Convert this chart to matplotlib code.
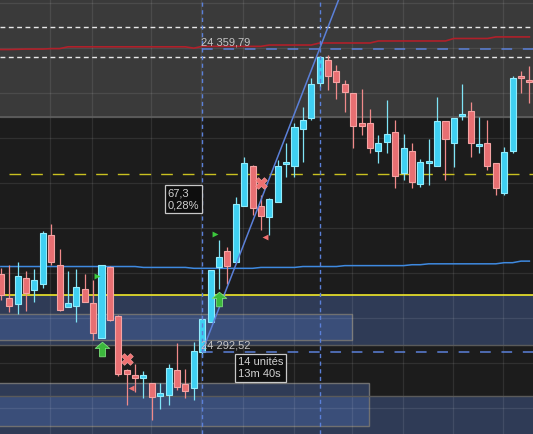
import numpy as np
import matplotlib.pyplot as plt
from matplotlib.path import Path
from matplotlib.patches import Rectangle

# --- data (price per candle) ---
opens = [24309.7, 24304.4, 24303.1, 24308.9, 24306.2, 24307.5, 24318.4, 24311.7, 24302.4, 24302.6,
         24306.4, 24303.3, 24295.5, 24311.3, 24300.4, 24288.4, 24287.3, 24286.6, 24285.5, 24282.6,
         24282.9, 24288.4, 24285.3, 24284.4, 24292.4, 24299.1, 24311.3, 24314.9, 24312.4, 24324.8,
         24333.7, 24324.8, 24322.4, 24325.7, 24334.2, 24333.7, 24342.0, 24344.4, 24352.2, 24357.3,
         24354.8, 24351.9, 24349.9, 24343.3, 24343.3, 24337.1, 24339.1, 24341.3, 24332.2, 24337.1,
         24329.7, 24334.4, 24333.7, 24343.7, 24338.8, 24344.8, 24346.0, 24338.2, 24338.8, 24334.4,
         24327.7, 24337.1, 24353.7, 24352.8]
highs = [24311.1, 24311.7, 24312.4, 24310.4, 24310.9, 24319.3, 24320.9, 24315.3, 24310.4, 24310.9,
         24309.7, 24308.4, 24311.7, 24311.5, 24300.6, 24288.6, 24289.8, 24288.2, 24285.5, 24285.5,
         24289.8, 24294.4, 24288.6, 24294.6, 24299.8, 24310.6, 24317.3, 24315.7, 24326.8, 24335.7,
         24333.9, 24327.3, 24326.6, 24335.1, 24338.8, 24343.3, 24346.8, 24353.3, 24357.9, 24358.4,
         24356.2, 24352.8, 24349.9, 24350.8, 24346.4, 24340.6, 24348.4, 24344.0, 24340.8, 24338.8,
         24335.3, 24339.7, 24349.1, 24343.7, 24344.4, 24351.9, 24347.9, 24344.6, 24344.0, 24334.4,
         24338.0, 24353.7, 24354.8, 24355.9]
lows = [24304.0, 24301.3, 24300.9, 24301.5, 24303.5, 24306.6, 24311.7, 24301.5, 24302.4, 24299.1,
        24303.5, 24295.1, 24295.5, 24299.3, 24287.1, 24280.7, 24283.5, 24282.2, 24277.3, 24279.8,
        24280.7, 24284.0, 24282.2, 24281.8, 24291.3, 24299.1, 24306.4, 24307.5, 24312.4, 24324.8,
        24322.9, 24319.5, 24318.4, 24325.7, 24331.3, 24331.3, 24334.6, 24344.0, 24351.3, 24350.6,
        24348.6, 24345.7, 24337.7, 24340.6, 24336.6, 24334.4, 24336.6, 24328.9, 24330.6, 24328.9,
        24329.1, 24329.5, 24333.7, 24330.6, 24333.5, 24344.0, 24335.7, 24336.6, 24332.8, 24327.3,
        24327.3, 24336.6, 24349.9, 24347.7]
closes = [24305.1, 24302.6, 24309.3, 24305.5, 24308.4, 24318.9, 24312.4, 24301.8, 24303.3, 24306.9,
          24303.5, 24296.6, 24311.7, 24299.5, 24287.5, 24287.5, 24286.6, 24287.3, 24282.4, 24283.3,
          24288.9, 24284.6, 24283.8, 24292.6, 24299.8, 24310.6, 24313.5, 24311.5, 24325.3, 24334.4,
          24324.4, 24322.6, 24326.4, 24333.7, 24334.4, 24342.4, 24344.0, 24351.9, 24357.9, 24353.7,
          24352.4, 24350.2, 24342.6, 24342.6, 24337.7, 24338.8, 24340.8, 24331.5, 24337.7, 24330.2,
          24334.6, 24334.6, 24343.7, 24339.7, 24344.4, 24345.3, 24338.8, 24338.4, 24333.7, 24328.9,
          24336.8, 24353.3, 24353.3, 24352.4]

# moving averages
ma_red = [24359.6, 24359.6, 24359.65, 24359.7, 24359.7, 24359.7, 24359.8, 24359.8,
          24360.2, 24360.2, 24360.2, 24360.2, 24360.2, 24360.2, 24360.2, 24360.2, 24360.2,
          24360.2, 24360.2, 24360.2, 24360.2, 24360.2, 24360.2, 24359.9,
          24360.3, 24360.3, 24360.3, 24360.3, 24360.3, 24360.3, 24360.3, 24360.3,
          24360.6, 24360.6, 24360.6, 24360.6, 24360.6, 24360.6,
          24361.05, 24361.05, 24361.05, 24361.05, 24361.05, 24361.05, 24361.05,
          24361.5, 24361.5, 24361.5, 24361.5, 24361.5, 24361.5, 24361.5, 24361.5, 24361.5,
          24362.05, 24362.05, 24362.05, 24362.05, 24362.05,
          24362.4, 24362.4, 24362.4, 24362.4, 24362.4]
ma_blue = [24311.4] * 17 + [24311.2] * 6 + [24311.0] * 8 + [24311.2] * 5 + [24311.4] * 5 \
          + [24311.6] * 8 + [24311.8] * 2 + [24312.0] * 9 + [24312.25] * 2 + [24312.6] * 2

# levels and zones
white_levels = [24364.5, 24357.9]
yellow_dashed = 24331.9
yellow_solid = 24305.0
gray_zone_low = 24344.7
zone1 = (24294.0, 24305.0)
zone2_top = 24282.7
box1 = (24295.1, 24300.9, 41.9)
box2 = (24276.0, 24285.5, 43.9)

# measurement between two candles
p_start, p_end = 24292.52, 24359.79
i_start, i_end = 24, 38

buy_idx, buy_px = [12, 26], [24293.1, 24304.2]
sell_idx, sell_px = [15, 31], [24290.9, 24329.9]
gtri_idx, gtri_px = [11.5, 25.5], [24309.4, 24318.6]
rtri_idx, rtri_px = [15.5, 31.5], [24284.5, 24317.9]

vgrid = [5.9, 10.9, 17.9, 23.9, 28.9, 34.9, 41.9, 47.9, 53.9, 59.9]
hgrid = np.arange(24280, 24371, 10)

plt.rcParams['font.family'] = ['Liberation Sans', 'DejaVu Sans']

fig = plt.figure(figsize=(5.33, 4.34), dpi=100)
fig.patch.set_facecolor('#1c1c1c')
ax = fig.add_axes([0, 0, 1, 1])
ax.set_facecolor('#1c1c1c')
ymin, ymax = 24274.2, 24370.6
ax.set_xlim(-0.1, 63.43)
ax.set_ylim(ymin, ymax)
for s in ax.spines.values():
    s.set_visible(False)
ax.set_xticks([])
ax.set_yticks([])

# zones
ax.axhspan(gray_zone_low, ymax, color='#3a3a3a', zorder=0)
ax.axhline(gray_zone_low, color='#606060', lw=1.2, zorder=1)
blue = '#4d6cae'
ax.axhspan(zone1[0], zone1[1], color=blue, alpha=0.4, lw=0, zorder=0.5)
ax.axhline(zone1[0], color='#5a5a5a', lw=1, zorder=1)
ax.axhspan(ymin, zone2_top, color=blue, alpha=0.4, lw=0, zorder=0.5)
ax.axhline(zone2_top, color='#5a5a5a', lw=1, zorder=1)
for lo, hi, right in [box1, box2]:
    ax.add_patch(Rectangle((-0.5, lo), right + 0.5, hi - lo, facecolor=blue, alpha=0.4,
                           edgecolor='none', zorder=0.6))
    ax.add_patch(Rectangle((-0.5, lo), right + 0.5, hi - lo, facecolor='none',
                           edgecolor='#707070', lw=1, zorder=0.7))

# grid
for g in hgrid:
    ax.axhline(g, color='white', alpha=0.09, lw=0.9, zorder=0.8)
for g in vgrid:
    ax.axvline(g, color='white', alpha=0.09, lw=0.9, zorder=0.8)

# level lines
for lv in white_levels:
    ax.axhline(lv, color='#e8e8e8', lw=1, dashes=(3.5, 2.5), zorder=2)
ax.plot([1.0, 63.5], [yellow_dashed] * 2, color='#c9c020', lw=1, dashes=(8.4, 7.2), zorder=2)
ax.axhline(yellow_solid, color='#f0e82a', lw=1.2, zorder=2)

idx = np.arange(len(opens))
ax.plot(idx, ma_red, color='#b0202a', lw=1.2, zorder=2)
ax.plot(idx, ma_blue, color='#3f8ae0', lw=1.1, zorder=2)

# candles
o = np.array(opens)
c = np.array(closes)
up = c >= o
body_lo = np.minimum(o, c)
body_h = np.maximum(np.abs(c - o), 0.45)
ax.vlines(idx[up], np.array(lows)[up], np.array(highs)[up], color='#7fe4f6', lw=0.9, zorder=3)
ax.vlines(idx[~up], np.array(lows)[~up], np.array(highs)[~up], color='#f08a8a', lw=0.9, zorder=3)
ax.bar(idx[up], body_h[up], bottom=body_lo[up], width=0.72, color='#3fd0f2',
       edgecolor='#93ecfc', lw=0.8, zorder=4)
ax.bar(idx[~up], body_h[~up], bottom=body_lo[~up], width=0.72, color='#e86f72',
       edgecolor='#f4a4a4', lw=0.8, zorder=4)

# measurement lines
vcol = '#5b80d8'
for i in (i_start, i_end):
    ax.axvline(i, color=vcol, lw=1, dashes=(3, 2.5), zorder=5)
for p in (p_start, p_end):
    ax.plot([i_start, 63.5], [p, p], color=vcol, lw=1.1, dashes=(7, 7), zorder=5)
slope = (p_end - p_start) / (i_end - i_start)
ax.plot([i_start, i_start + 17], [p_start, p_start + 17 * slope], color='#5b80d8', lw=1.1, zorder=6)

def fmt(v):
    s = f'{v:,.2f}'.replace(',', ' ').replace('.', ',')
    return s

for p in (p_start, p_end):
    ax.annotate(fmt(p), (i_start - 0.1, p), xytext=(0, 0.8), textcoords='offset points',
                ha='left', va='bottom', color='#c4c4c4', fontsize=8, zorder=7)

box = dict(boxstyle='square,pad=0.25', facecolor='#0e0e0e', edgecolor='#c8c8c8', lw=0.9)
diff = p_end - p_start
ax.text(19.85, 24328.8, f'{diff:.1f}'.replace('.', ',') + '\n' +
        f'{diff / p_start * 100:.2f}%'.replace('.', ','),
        ha='left', va='top', color='#d0d0d0', fontsize=8, linespacing=1.3, bbox=box, zorder=8)
ax.text(28.3, 24291.3, f'{i_end - i_start} unités\n13m 40s',
        ha='left', va='top', color='#d0d0d0', fontsize=8, linespacing=1.3, bbox=box, zorder=8)

# signals
arrow = Path([(0, 1), (-1, 0.15), (-0.4, 0.15), (-0.4, -1), (0.4, -1), (0.4, 0.15), (1, 0.15), (0, 1)],
             [Path.MOVETO] + [Path.LINETO] * 6 + [Path.CLOSEPOLY])
ax.scatter(buy_idx, buy_px, marker=arrow, s=110, color='#3cb83c', edgecolor='#7de07d', lw=0.6, zorder=9)
ax.scatter(sell_idx, sell_px, marker='X', s=70, color='#f07070', edgecolor='#f49a9a', lw=0.5, zorder=9)
ax.scatter(gtri_idx, gtri_px, marker='>', s=18, color='#3cc83c', lw=0, zorder=9)
ax.scatter(rtri_idx, rtri_px, marker='<', s=18, color='#f07070', lw=0, zorder=9)

fig.savefig('out.png', dpi=100, facecolor=fig.get_facecolor())
